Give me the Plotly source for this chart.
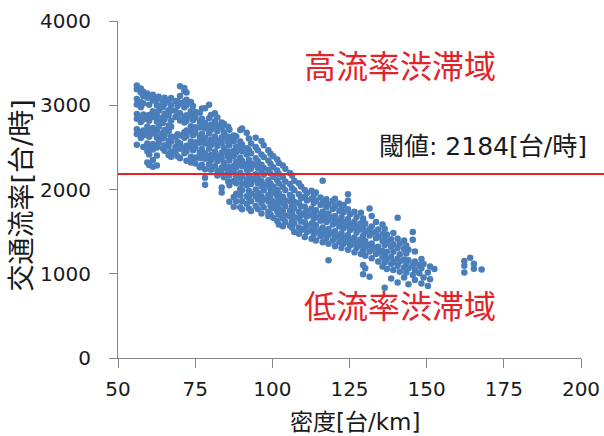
import plotly.graph_objects as go

# ---- data: (density [台/km], [flow values 台/時]) ----
high_flow_cluster = [
    (56.1, [2530, 2660, 2715, 2840, 2895, 3010, 3075, 3190, 3235]),
    (57.4, [2610, 2680, 2800, 2855, 2975, 3040, 3150, 3200]),
    (58.2, [2505, 2640, 2700, 2830, 2890, 3020, 3110, 3160]),
    (59.5, [2320, 2455, 2545, 2680, 2745, 2875, 3090, 3140]),
    (60.1, [2290, 2415, 2490, 2625, 2690, 2815, 2885, 3005, 3115]),
    (61.3, [2270, 2350, 2475, 2540, 2665, 2730, 2860, 2930, 3055, 3125]),
    (62.6, [2285, 2405, 2500, 2615, 2690, 2805, 2875, 3000, 3070]),
    (63.2, [2555, 2625, 2745, 2810, 2935, 2995, 3100]),
    (64.5, [2490, 2605, 2670, 2790, 2855, 2975, 3040]),
    (65.1, [2460, 2525, 2645, 2705, 2835, 2900, 3015, 3090]),
    (66.4, [2410, 2515, 2580, 2695, 2760, 2880, 2940, 3055]),
    (67.2, [2390, 2450, 2570, 2630, 2745, 2815, 2935, 3000, 3085]),
    (68.6, [2440, 2505, 2625, 2860, 2935, 3050]),
    (69.3, [2395, 2500, 2565, 2655, 2870, 2990, 3045]),
    (70.1, [2370, 2485, 2545, 2640, 2820, 2905, 3025, 3110, 3225]),
    (71.5, [2430, 2495, 2615, 2680, 2795, 2860, 2975, 3045, 3170, 3205]),
    (72.2, [2340, 2455, 2520, 2635, 2700, 2815, 2880, 3000, 3065, 3150]),
    (73.6, [2320, 2390, 2505, 2570, 2685, 2750, 2865, 2930, 3040]),
    (74.3, [2355, 2465, 2530, 2645, 2710, 2825, 2890, 2990]),
    (75.1, [2310, 2380, 2495, 2560, 2675, 2740, 2855, 2920]),
    (76.5, [2265, 2375, 2440, 2555, 2620, 2735, 2800, 2910]),
    (77.2, [2295, 2410, 2480, 2595, 2660, 2775, 2840, 2960]),
]

transition_zone = [
    (78.2, [2055, 2140, 2240, 2365, 2430, 2545, 2610, 2725, 2790, 2965]),
    (79.5, [2300, 2370, 2485, 2550, 2665, 2730, 2845, 3005]),
    (80.1, [2235, 2345, 2410, 2525, 2590, 2705, 2770, 2885]),
    (81.4, [2275, 2385, 2450, 2565, 2630, 2745, 2810, 2905]),
    (82.2, [2165, 2220, 2335, 2400, 2515, 2580, 2695, 2760, 2855]),
    (83.6, [1965, 2025, 2190, 2260, 2375, 2440, 2555, 2620, 2735, 2795]),
    (84.3, [2145, 2255, 2320, 2435, 2500, 2615, 2680, 2780]),
    (85.7, [2095, 2205, 2270, 2385, 2450, 2565, 2630, 2745]),
    (86.1, [1855, 2050, 2165, 2230, 2345, 2410, 2525, 2590, 2710]),
    (87.5, [1795, 1910, 2100, 2215, 2280, 2395, 2460, 2575, 2640]),
    (88.3, [1860, 1950, 2075, 2150, 2265, 2330, 2445, 2510, 2630]),
    (89.6, [1790, 1930, 2010, 2135, 2200, 2315, 2380, 2495, 2570, 2705]),
    (90.2, [1765, 1860, 1990, 2070, 2160, 2275, 2340, 2455, 2530, 2725]),
    (91.7, [1830, 1920, 2050, 2120, 2235, 2300, 2415, 2490, 2675]),
    (92.4, [1775, 1900, 1985, 2105, 2170, 2285, 2350, 2470, 2605]),
    (93.1, [1745, 1860, 1950, 2065, 2130, 2245, 2310, 2430, 2545]),
    (94.6, [1805, 1920, 2000, 2115, 2180, 2295, 2370, 2505, 2615]),
    (95.3, [1770, 1880, 1960, 2075, 2140, 2255, 2335, 2465]),
    (96.5, [1715, 1840, 1920, 2035, 2100, 2215, 2295, 2415, 2575]),
    (97.2, [1790, 1885, 1990, 2060, 2175, 2255, 2385, 2525]),
    (98.7, [1685, 1735, 1860, 1935, 2045, 2110, 2230, 2345, 2465]),
    (99.4, [1705, 1805, 1895, 2000, 2070, 2190, 2305, 2425]),
]

decline_zone = [
    (100.3, [1665, 1780, 1855, 1960, 2035, 2150, 2265, 2395]),
    (101.6, [1625, 1735, 1815, 1920, 1995, 2110, 2225, 2355]),
    (102.1, [1585, 1700, 1775, 1880, 1955, 2070, 2185, 2315]),
    (103.4, [1565, 1655, 1745, 1840, 1915, 2030, 2145, 2285]),
    (104.2, [1615, 1690, 1800, 1870, 1990, 2095, 2245]),
    (105.7, [1570, 1680, 1750, 1860, 1935, 2065, 2195]),
    (106.4, [1545, 1620, 1730, 1805, 1910, 2015, 2165]),
    (107.1, [1495, 1600, 1675, 1780, 1855, 1990, 2105]),
    (108.6, [1475, 1550, 1660, 1735, 1840, 1945, 2075]),
    (109.3, [1515, 1620, 1690, 1800, 1895, 2035]),
    (110.5, [1435, 1540, 1610, 1720, 1795, 1915, 1995]),
    (111.2, [1495, 1570, 1680, 1750, 1870, 1955]),
    (112.7, [1415, 1520, 1595, 1700, 1775, 1890, 1985]),
    (113.4, [1465, 1545, 1650, 1725, 1840, 1935]),
    (114.1, [1395, 1500, 1575, 1675, 1755, 1865, 1965]),
    (115.6, [1445, 1520, 1630, 1705, 1815, 1905]),
    (116.3, [1375, 1480, 1550, 1660, 1735, 1850, 2105]),
    (117.5, [1425, 1500, 1615, 1685, 1790, 1885]),
    (118.2, [1160, 1355, 1460, 1530, 1640, 1715, 1825]),
    (119.6, [1395, 1480, 1585, 1665, 1770, 1865]),
    (120.3, [1325, 1430, 1505, 1610, 1685, 1800, 1890]),
    (121.7, [1375, 1450, 1560, 1635, 1745, 1835]),
    (122.4, [1305, 1410, 1480, 1590, 1670, 1775]),
    (123.1, [1355, 1430, 1540, 1615, 1730, 1815]),
    (124.5, [1285, 1390, 1460, 1570, 1650, 1765, 1865, 1945]),
]

low_flow_tail = [
    (125.2, [1335, 1410, 1520, 1590, 1705]),
    (126.6, [1255, 1360, 1430, 1545, 1620, 1735]),
    (127.3, [1305, 1380, 1490, 1560, 1675]),
    (128.7, [1235, 1340, 1410, 1525, 1600, 1725]),
    (129.4, [995, 1105, 1275, 1380, 1450, 1565, 1655]),
    (130.1, [1065, 1215, 1320, 1390, 1505, 1595]),
    (131.5, [965, 1265, 1340, 1455, 1530, 1775]),
    (132.2, [1185, 1290, 1360, 1480, 1560, 1685]),
    (133.6, [1235, 1310, 1420, 1500, 1615]),
    (134.3, [1145, 1250, 1320, 1440, 1525]),
    (135.7, [1085, 1195, 1270, 1390, 1470, 1585]),
    (136.4, [835, 1135, 1220, 1340, 1420, 1535]),
    (137.1, [1055, 1175, 1260, 1375, 1465]),
    (138.5, [945, 1115, 1200, 1320, 1410]),
    (139.2, [1045, 1140, 1260, 1350, 1485]),
    (140.6, [895, 1095, 1180, 1305, 1415, 1665]),
    (141.3, [1025, 1145, 1230, 1355]),
    (142.7, [955, 1075, 1170, 1295, 1395]),
    (143.4, [1015, 1115, 1240, 1335]),
    (144.1, [875, 1065, 1160, 1285]),
    (145.5, [985, 1105, 1405, 1495]),
    (146.2, [925, 1045, 1145, 1265]),
    (147.6, [1005, 1105]),
    (148.3, [885, 1065, 1175]),
    (149.0, [955, 1115]),
    (150.4, [855, 1015]),
    (151.1, [935, 1085]),
    (152.5, [1055]),
    (162.2, [1015, 1095, 1150]),
    (164.1, [1190]),
    (165.3, [1060, 1120]),
    (167.8, [1050]),
]

threshold_flow = 2184
x_ticks = [50, 75, 100, 125, 150, 175, 200]
y_ticks = [0, 1000, 2000, 3000, 4000]
x_title = "密度[台/km]"
y_title = "交通流率[台/時]"
upper_label = "高流率渋滞域"
lower_label = "低流率渋滞域"
threshold_label = "閾値: 2184[台/時]"

# ---- build point table ----
density, flow = [], []
for group in (high_flow_cluster, transition_zone, decline_zone, low_flow_tail):
    for d, ys in group:
        for v in ys:
            density.append(d)
            flow.append(v)

FONT = "DejaVu Sans, Noto Sans CJK JP"
CJK = "Noto Sans CJK JP"
AXIS_COLOR = "#868686"
TEXT = "#1a1a1a"
RED = "#e3232a"

fig = go.Figure()
fig.add_trace(go.Scatter(
    x=density, y=flow, mode="markers",
    marker=dict(size=6.5, color="#4a7ebb", line=dict(width=0)),
    hoverinfo="x+y", showlegend=False,
))

fig.add_shape(type="line", xref="paper", yref="y",
              x0=0, x1=1.06, y0=threshold_flow, y1=threshold_flow,
              line=dict(color=RED, width=2))

axis_common = dict(showgrid=False, zeroline=False, automargin=False,
                   showline=True, linecolor=AXIS_COLOR, linewidth=1,
                   ticks="outside", tickcolor=AXIS_COLOR,
                   tickfont=dict(size=20, family=FONT, color=TEXT))

fig.update_layout(
    width=604, height=436,
    margin=dict(l=118, r=23, t=21, b=78, autoexpand=False),
    paper_bgcolor="white", plot_bgcolor="white",
    font=dict(family=FONT, color=TEXT),
    xaxis=dict(range=[50, 200], tickvals=x_ticks, ticklen=9,
               ticklabelstandoff=4, **axis_common),
    yaxis=dict(range=[0, 4000], tickvals=y_ticks, ticklen=8,
               ticklabelstandoff=14, **axis_common),
    annotations=[
        dict(text=x_title, xref="paper", yref="paper", x=0.512, y=-0.19,
             xanchor="center", yanchor="middle", showarrow=False,
             font=dict(size=23, family=FONT, color=TEXT)),
        dict(text=y_title, xref="paper", yref="paper", x=-0.209, y=0.483,
             xanchor="center", yanchor="middle", showarrow=False, textangle=-90,
             font=dict(size=27, family=FONT, color=TEXT)),
        dict(text=upper_label, xref="x", yref="y", x=141.3, y=3490,
             xanchor="center", yanchor="middle", showarrow=False,
             font=dict(size=32, family=CJK, color=RED)),
        dict(text=lower_label, xref="x", yref="y", x=141.3, y=640,
             xanchor="center", yanchor="middle", showarrow=False,
             font=dict(size=32, family=CJK, color=RED)),
        dict(text=threshold_label, xref="x", yref="y", x=168.2, y=2513,
             xanchor="center", yanchor="middle", showarrow=False,
             font=dict(size=25, family=FONT, color=TEXT)),
    ],
)

fig.write_html("out.html", config={"displayModeBar": False},
               post_script="document.body.style.margin='0px';")
